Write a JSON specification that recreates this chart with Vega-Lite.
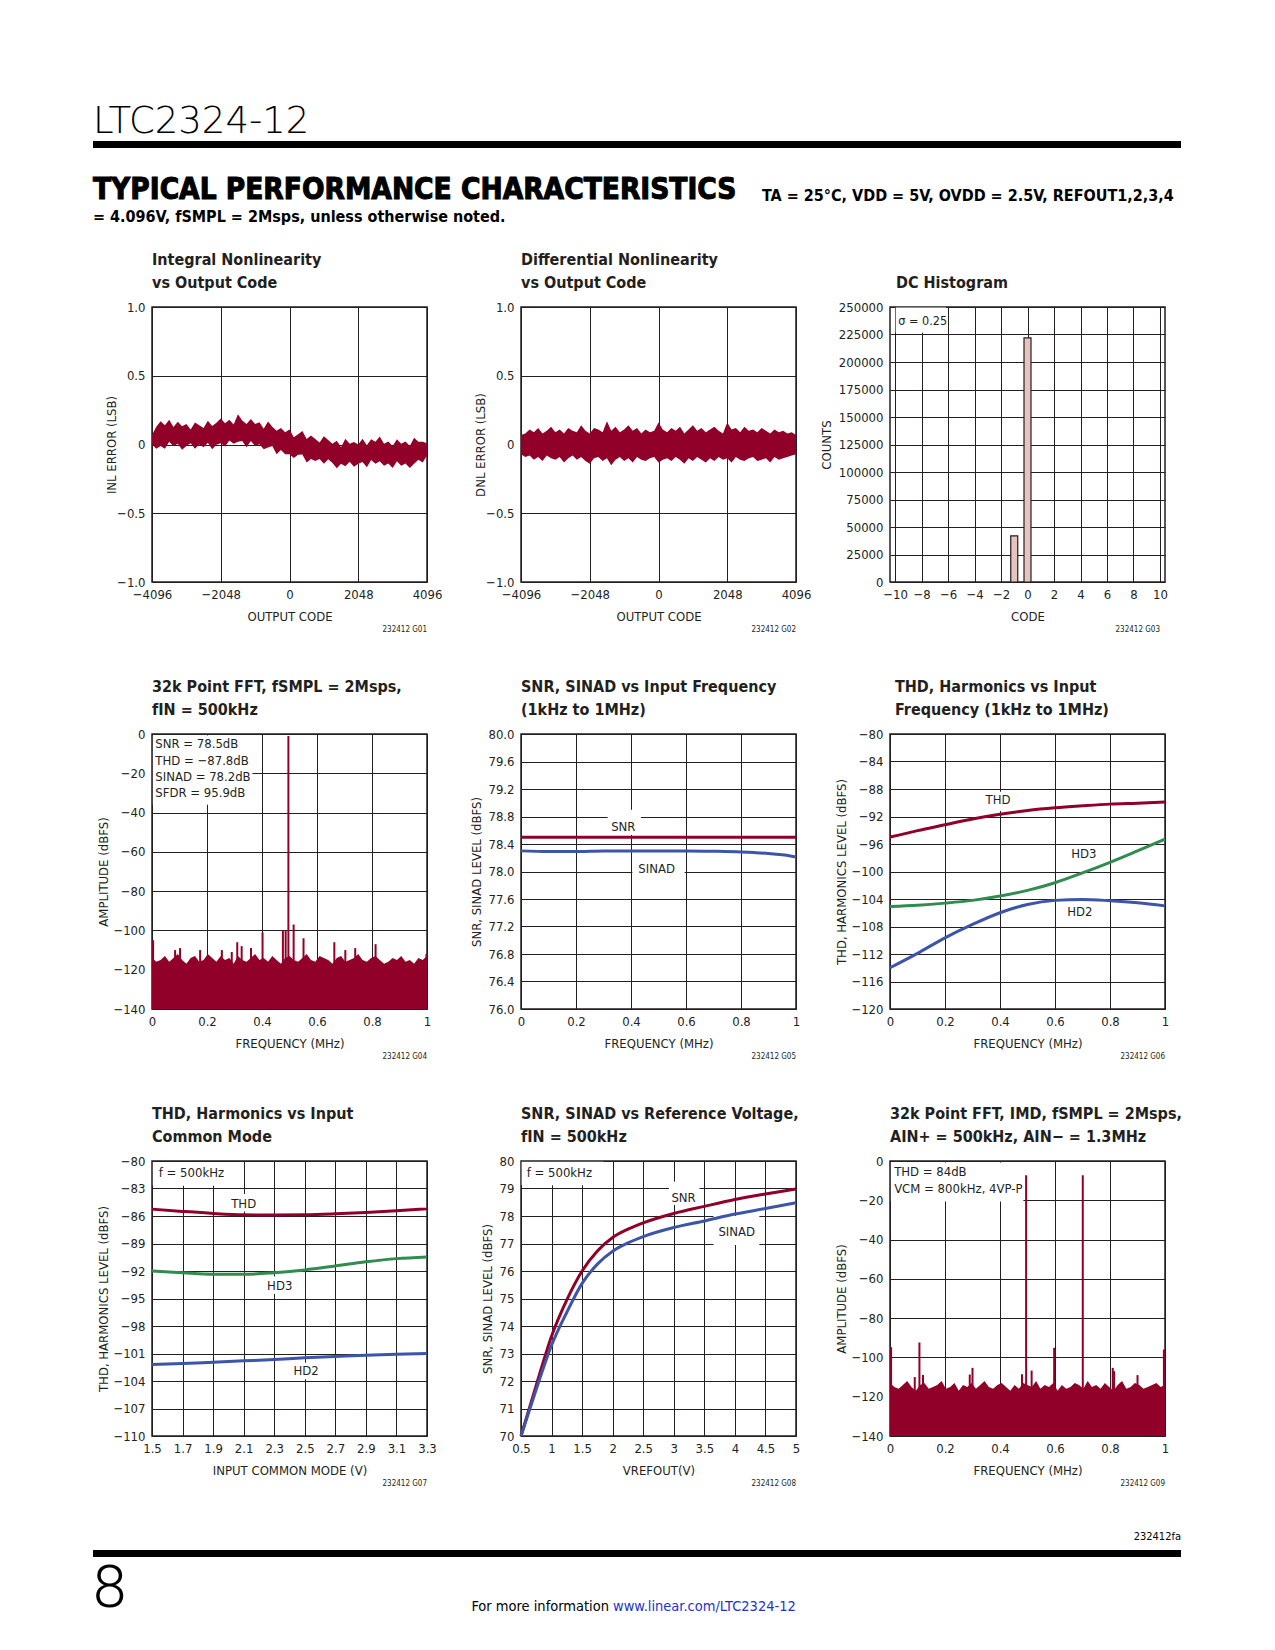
{
"$schema": "https://vega.github.io/schema/vega-lite/v6.json",
"autosize": "none",
"padding": {"left": 152, "top": 100, "right": 1123, "bottom": 1550},
"background": "white",
"config": {
 "font": "DejaVu Sans Condensed, sans-serif",
 "view": {"stroke": "#231f20", "strokeWidth": 1.5},
 "axis": {"grid": true, "gridColor": "#231f20", "gridOpacity": 1, "gridWidth": 1, "domain": false, "ticks": false, "tickSize": 0,
   "labelFont": "DejaVu Sans Condensed, sans-serif", "labelFontSize": 13, "labelColor": "#231f20", "labelPadding": 7, "labelFlush": false, "labelOverlap": false,
   "titleFont": "DejaVu Sans Condensed, sans-serif", "titleFontSize": 13, "titleFontWeight": "normal", "titleColor": "#231f20"},
 "axisX": {"labelPadding": 6, "titleY": 34, "titleBaseline": "middle"},
 "axisY": {"titleBaseline": "middle"},
 "title": {"font": "DejaVu Sans Condensed, sans-serif", "fontSize": 16, "fontWeight": "bold", "anchor": "start", "frame": "group", "offset": 10, "lineHeight": 23, "color": "#231f20"},
 "text": {"font": "DejaVu Sans Condensed, sans-serif", "fontSize": 13, "color": "#231f20"},
 "line": {"strokeWidth": 3, "interpolate": "monotone"}
},
"datasets": {
 "inl": [{"code":-4096,"lsb":0.07,"lsb_lo":0},{"code":-3968,"lsb":0.13,"lsb_lo":-0.03},{"code":-3840,"lsb":0.17,"lsb_lo":-0.01},{"code":-3712,"lsb":0.14,"lsb_lo":-0.03},{"code":-3584,"lsb":0.18,"lsb_lo":0.02},{"code":-3456,"lsb":0.128,"lsb_lo":-0.012},{"code":-3328,"lsb":0.165,"lsb_lo":0.005},{"code":-3200,"lsb":0.132,"lsb_lo":-0.038},{"code":-3072,"lsb":0.15,"lsb_lo":-0.01},{"code":-2944,"lsb":0.11,"lsb_lo":0.01},{"code":-2816,"lsb":0.16,"lsb_lo":-0.03},{"code":-2688,"lsb":0.14,"lsb_lo":0},{"code":-2560,"lsb":0.12,"lsb_lo":-0.02},{"code":-2432,"lsb":0.172,"lsb_lo":0.012},{"code":-2304,"lsb":0.135,"lsb_lo":-0.035},{"code":-2176,"lsb":0.158,"lsb_lo":-0.002},{"code":-2048,"lsb":0.19,"lsb_lo":0.01},{"code":-1920,"lsb":0.155,"lsb_lo":-0.015},{"code":-1792,"lsb":0.18,"lsb_lo":0.03},{"code":-1664,"lsb":0.145,"lsb_lo":0.005},{"code":-1536,"lsb":0.22,"lsb_lo":0.02},{"code":-1408,"lsb":0.175,"lsb_lo":0.025},{"code":-1280,"lsb":0.15,"lsb_lo":-0.02},{"code":-1152,"lsb":0.185,"lsb_lo":0.025},{"code":-1024,"lsb":0.15,"lsb_lo":-0.01},{"code":-896,"lsb":0.162,"lsb_lo":0.002},{"code":-768,"lsb":0.115,"lsb_lo":-0.035},{"code":-640,"lsb":0.168,"lsb_lo":-0.022},{"code":-512,"lsb":0.13,"lsb_lo":-0.01},{"code":-384,"lsb":0.1,"lsb_lo":-0.07},{"code":-256,"lsb":0.12,"lsb_lo":-0.04},{"code":-128,"lsb":0.09,"lsb_lo":-0.07},{"code":0,"lsb":0.11,"lsb_lo":-0.07},{"code":128,"lsb":0.052,"lsb_lo":-0.098},{"code":256,"lsb":0.075,"lsb_lo":-0.075},{"code":384,"lsb":0.098,"lsb_lo":-0.072},{"code":512,"lsb":0.04,"lsb_lo":-0.13},{"code":640,"lsb":0.065,"lsb_lo":-0.105},{"code":768,"lsb":0.04,"lsb_lo":-0.12},{"code":896,"lsb":0.015,"lsb_lo":-0.105},{"code":1024,"lsb":0.06,"lsb_lo":-0.14},{"code":1152,"lsb":0.032,"lsb_lo":-0.108},{"code":1280,"lsb":0.005,"lsb_lo":-0.135},{"code":1408,"lsb":0.028,"lsb_lo":-0.172},{"code":1536,"lsb":-0.02,"lsb_lo":-0.14},{"code":1664,"lsb":0.042,"lsb_lo":-0.158},{"code":1792,"lsb":0.005,"lsb_lo":-0.125},{"code":1920,"lsb":0.018,"lsb_lo":-0.162},{"code":2048,"lsb":0,"lsb_lo":-0.14},{"code":2176,"lsb":0.042,"lsb_lo":-0.128},{"code":2304,"lsb":-0.005,"lsb_lo":-0.165},{"code":2432,"lsb":0.038,"lsb_lo":-0.112},{"code":2560,"lsb":0.02,"lsb_lo":-0.14},{"code":2688,"lsb":0.058,"lsb_lo":-0.122},{"code":2816,"lsb":0.005,"lsb_lo":-0.155},{"code":2944,"lsb":0.022,"lsb_lo":-0.138},{"code":3072,"lsb":-0.01,"lsb_lo":-0.17},{"code":3200,"lsb":0.038,"lsb_lo":-0.122},{"code":3328,"lsb":0.005,"lsb_lo":-0.155},{"code":3456,"lsb":0.022,"lsb_lo":-0.138},{"code":3584,"lsb":-0.01,"lsb_lo":-0.17},{"code":3712,"lsb":0.05,"lsb_lo":-0.14},{"code":3840,"lsb":0.02,"lsb_lo":-0.11},{"code":3968,"lsb":0.02,"lsb_lo":-0.13},{"code":4096,"lsb":0.01,"lsb_lo":-0.08}],
 "dnl": [{"code":-4096,"lsb":0.07,"lsb_lo":-0.07},{"code":-3968,"lsb":0.08,"lsb_lo":-0.09},{"code":-3840,"lsb":0.11,"lsb_lo":-0.08},{"code":-3712,"lsb":0.09,"lsb_lo":-0.11},{"code":-3584,"lsb":0.12,"lsb_lo":-0.09},{"code":-3456,"lsb":0.08,"lsb_lo":-0.12},{"code":-3328,"lsb":0.1,"lsb_lo":-0.08},{"code":-3200,"lsb":0.13,"lsb_lo":-0.1},{"code":-3072,"lsb":0.09,"lsb_lo":-0.11},{"code":-2944,"lsb":0.11,"lsb_lo":-0.09},{"code":-2816,"lsb":0.08,"lsb_lo":-0.13},{"code":-2688,"lsb":0.12,"lsb_lo":-0.1},{"code":-2560,"lsb":0.1,"lsb_lo":-0.08},{"code":-2432,"lsb":0.09,"lsb_lo":-0.11},{"code":-2304,"lsb":0.14,"lsb_lo":-0.09},{"code":-2176,"lsb":0.1,"lsb_lo":-0.12},{"code":-2048,"lsb":0.08,"lsb_lo":-0.14},{"code":-1920,"lsb":0.12,"lsb_lo":-0.1},{"code":-1792,"lsb":0.11,"lsb_lo":-0.09},{"code":-1664,"lsb":0.09,"lsb_lo":-0.12},{"code":-1536,"lsb":0.17,"lsb_lo":-0.1},{"code":-1408,"lsb":0.1,"lsb_lo":-0.15},{"code":-1280,"lsb":0.13,"lsb_lo":-0.11},{"code":-1152,"lsb":0.09,"lsb_lo":-0.09},{"code":-1024,"lsb":0.11,"lsb_lo":-0.12},{"code":-896,"lsb":0.14,"lsb_lo":-0.1},{"code":-768,"lsb":0.1,"lsb_lo":-0.13},{"code":-640,"lsb":0.12,"lsb_lo":-0.09},{"code":-512,"lsb":0.08,"lsb_lo":-0.11},{"code":-384,"lsb":0.11,"lsb_lo":-0.12},{"code":-256,"lsb":0.09,"lsb_lo":-0.1},{"code":-128,"lsb":0.1,"lsb_lo":-0.09},{"code":0,"lsb":0.16,"lsb_lo":-0.13},{"code":128,"lsb":0.11,"lsb_lo":-0.11},{"code":256,"lsb":0.09,"lsb_lo":-0.1},{"code":384,"lsb":0.12,"lsb_lo":-0.12},{"code":512,"lsb":0.1,"lsb_lo":-0.09},{"code":640,"lsb":0.13,"lsb_lo":-0.11},{"code":768,"lsb":0.08,"lsb_lo":-0.14},{"code":896,"lsb":0.11,"lsb_lo":-0.1},{"code":1024,"lsb":0.14,"lsb_lo":-0.12},{"code":1152,"lsb":0.1,"lsb_lo":-0.09},{"code":1280,"lsb":0.12,"lsb_lo":-0.11},{"code":1408,"lsb":0.09,"lsb_lo":-0.13},{"code":1536,"lsb":0.11,"lsb_lo":-0.1},{"code":1664,"lsb":0.13,"lsb_lo":-0.12},{"code":1792,"lsb":0.1,"lsb_lo":-0.09},{"code":1920,"lsb":0.08,"lsb_lo":-0.11},{"code":2048,"lsb":0.16,"lsb_lo":-0.1},{"code":2176,"lsb":0.11,"lsb_lo":-0.13},{"code":2304,"lsb":0.12,"lsb_lo":-0.09},{"code":2432,"lsb":0.09,"lsb_lo":-0.11},{"code":2560,"lsb":0.13,"lsb_lo":-0.12},{"code":2688,"lsb":0.1,"lsb_lo":-0.1},{"code":2816,"lsb":0.11,"lsb_lo":-0.09},{"code":2944,"lsb":0.09,"lsb_lo":-0.12},{"code":3072,"lsb":0.12,"lsb_lo":-0.11},{"code":3200,"lsb":0.1,"lsb_lo":-0.1},{"code":3328,"lsb":0.08,"lsb_lo":-0.13},{"code":3456,"lsb":0.11,"lsb_lo":-0.09},{"code":3584,"lsb":0.09,"lsb_lo":-0.11},{"code":3712,"lsb":0.1,"lsb_lo":-0.1},{"code":3840,"lsb":0.08,"lsb_lo":-0.09},{"code":3968,"lsb":0.09,"lsb_lo":-0.08},{"code":4096,"lsb":0.07,"lsb_lo":-0.07}],
 "fft1_floor": [{"freq":0,"amp":-114},{"freq":0.0156,"amp":-116},{"freq":0.0313,"amp":-115},{"freq":0.0469,"amp":-113},{"freq":0.0625,"amp":-116},{"freq":0.0781,"amp":-114},{"freq":0.0938,"amp":-112},{"freq":0.1094,"amp":-115},{"freq":0.125,"amp":-117},{"freq":0.1406,"amp":-114},{"freq":0.1563,"amp":-113},{"freq":0.1719,"amp":-116},{"freq":0.1875,"amp":-115},{"freq":0.2031,"amp":-112},{"freq":0.2188,"amp":-114},{"freq":0.2344,"amp":-116},{"freq":0.25,"amp":-113},{"freq":0.2656,"amp":-115},{"freq":0.2813,"amp":-114},{"freq":0.2969,"amp":-117},{"freq":0.3125,"amp":-113},{"freq":0.3281,"amp":-115},{"freq":0.3438,"amp":-116},{"freq":0.3594,"amp":-114},{"freq":0.375,"amp":-112},{"freq":0.3906,"amp":-115},{"freq":0.4063,"amp":-114},{"freq":0.4219,"amp":-116},{"freq":0.4375,"amp":-113},{"freq":0.4531,"amp":-115},{"freq":0.4688,"amp":-117},{"freq":0.4844,"amp":-114},{"freq":0.5,"amp":-113},{"freq":0.5156,"amp":-115},{"freq":0.5313,"amp":-116},{"freq":0.5469,"amp":-114},{"freq":0.5625,"amp":-112},{"freq":0.5781,"amp":-115},{"freq":0.5938,"amp":-116},{"freq":0.6094,"amp":-113},{"freq":0.625,"amp":-114},{"freq":0.6406,"amp":-115},{"freq":0.6563,"amp":-117},{"freq":0.6719,"amp":-114},{"freq":0.6875,"amp":-113},{"freq":0.7031,"amp":-116},{"freq":0.7188,"amp":-115},{"freq":0.7344,"amp":-114},{"freq":0.75,"amp":-112},{"freq":0.7656,"amp":-115},{"freq":0.7813,"amp":-116},{"freq":0.7969,"amp":-114},{"freq":0.8125,"amp":-113},{"freq":0.8281,"amp":-115},{"freq":0.8438,"amp":-117},{"freq":0.8594,"amp":-116},{"freq":0.875,"amp":-114},{"freq":0.8906,"amp":-115},{"freq":0.9063,"amp":-113},{"freq":0.9219,"amp":-116},{"freq":0.9375,"amp":-115},{"freq":0.9531,"amp":-117},{"freq":0.9688,"amp":-114},{"freq":0.9844,"amp":-115},{"freq":1,"amp":-113}],
 "fft1_spurs": [{"freq":0.004,"amp":-105},{"freq":0.084,"amp":-110},{"freq":0.102,"amp":-109},{"freq":0.175,"amp":-110},{"freq":0.254,"amp":-110},{"freq":0.29,"amp":-111},{"freq":0.31,"amp":-106},{"freq":0.326,"amp":-108},{"freq":0.36,"amp":-109},{"freq":0.402,"amp":-101},{"freq":0.476,"amp":-100},{"freq":0.486,"amp":-100},{"freq":0.496,"amp":-1},{"freq":0.515,"amp":-97},{"freq":0.551,"amp":-104},{"freq":0.663,"amp":-106},{"freq":0.703,"amp":-110},{"freq":0.739,"amp":-109},{"freq":0.813,"amp":-107},{"freq":0.998,"amp":-112}],
 "fft2_floor": [{"freq":0,"amp":-113},{"freq":0.0156,"amp":-115},{"freq":0.0313,"amp":-116},{"freq":0.0469,"amp":-114},{"freq":0.0625,"amp":-112},{"freq":0.0781,"amp":-115},{"freq":0.0938,"amp":-117},{"freq":0.1094,"amp":-114},{"freq":0.125,"amp":-113},{"freq":0.1406,"amp":-116},{"freq":0.1563,"amp":-115},{"freq":0.1719,"amp":-114},{"freq":0.1875,"amp":-112},{"freq":0.2031,"amp":-116},{"freq":0.2188,"amp":-115},{"freq":0.2344,"amp":-113},{"freq":0.25,"amp":-117},{"freq":0.2656,"amp":-114},{"freq":0.2813,"amp":-115},{"freq":0.2969,"amp":-113},{"freq":0.3125,"amp":-116},{"freq":0.3281,"amp":-114},{"freq":0.3438,"amp":-112},{"freq":0.3594,"amp":-115},{"freq":0.375,"amp":-116},{"freq":0.3906,"amp":-114},{"freq":0.4063,"amp":-113},{"freq":0.4219,"amp":-115},{"freq":0.4375,"amp":-117},{"freq":0.4531,"amp":-114},{"freq":0.4688,"amp":-116},{"freq":0.4844,"amp":-113},{"freq":0.5,"amp":-114},{"freq":0.5156,"amp":-115},{"freq":0.5313,"amp":-112},{"freq":0.5469,"amp":-116},{"freq":0.5625,"amp":-114},{"freq":0.5781,"amp":-115},{"freq":0.5938,"amp":-113},{"freq":0.6094,"amp":-117},{"freq":0.625,"amp":-114},{"freq":0.6406,"amp":-116},{"freq":0.6563,"amp":-115},{"freq":0.6719,"amp":-113},{"freq":0.6875,"amp":-114},{"freq":0.7031,"amp":-116},{"freq":0.7188,"amp":-112},{"freq":0.7344,"amp":-115},{"freq":0.75,"amp":-114},{"freq":0.7656,"amp":-116},{"freq":0.7813,"amp":-113},{"freq":0.7969,"amp":-115},{"freq":0.8125,"amp":-117},{"freq":0.8281,"amp":-114},{"freq":0.8438,"amp":-112},{"freq":0.8594,"amp":-116},{"freq":0.875,"amp":-115},{"freq":0.8906,"amp":-113},{"freq":0.9063,"amp":-114},{"freq":0.9219,"amp":-116},{"freq":0.9375,"amp":-115},{"freq":0.9531,"amp":-114},{"freq":0.9688,"amp":-113},{"freq":0.9844,"amp":-115},{"freq":1,"amp":-114}],
 "fft2_spurs": [{"freq":0.004,"amp":-94.8},{"freq":0.09,"amp":-110},{"freq":0.107,"amp":-92.4},{"freq":0.12,"amp":-109},{"freq":0.29,"amp":-108.7},{"freq":0.3,"amp":-105.3},{"freq":0.48,"amp":-108.5},{"freq":0.495,"amp":-7.3},{"freq":0.515,"amp":-106.7},{"freq":0.597,"amp":-95.1},{"freq":0.701,"amp":-7.3},{"freq":0.81,"amp":-105.3},{"freq":0.815,"amp":-107},{"freq":0.9,"amp":-109},{"freq":0.996,"amp":-96}],
 "snr_freq": [{"freq":0,"level":78.5,"series":"SNR"},{"freq":0.25,"level":78.5,"series":"SNR"},{"freq":0.5,"level":78.5,"series":"SNR"},{"freq":0.75,"level":78.5,"series":"SNR"},{"freq":1,"level":78.5,"series":"SNR"},
   {"freq":0,"level":78.3,"series":"SINAD"},{"freq":0.1,"level":78.29,"series":"SINAD"},{"freq":0.2,"level":78.29,"series":"SINAD"},{"freq":0.3,"level":78.3,"series":"SINAD"},{"freq":0.4,"level":78.3,"series":"SINAD"},{"freq":0.5,"level":78.3,"series":"SINAD"},{"freq":0.6,"level":78.3,"series":"SINAD"},{"freq":0.7,"level":78.295,"series":"SINAD"},{"freq":0.8,"level":78.285,"series":"SINAD"},{"freq":0.85,"level":78.275,"series":"SINAD"},{"freq":0.9,"level":78.262,"series":"SINAD"},{"freq":0.95,"level":78.242,"series":"SINAD"},{"freq":1,"level":78.21,"series":"SINAD"}],
 "thd_freq": [{"freq":0,"level":-95.0,"series":"THD"},{"freq":0.1,"level":-94.05,"series":"THD"},{"freq":0.2,"level":-93.2,"series":"THD"},{"freq":0.3,"level":-92.35,"series":"THD"},{"freq":0.4,"level":-91.66,"series":"THD"},{"freq":0.5,"level":-91.13,"series":"THD"},{"freq":0.6,"level":-90.74,"series":"THD"},{"freq":0.7,"level":-90.45,"series":"THD"},{"freq":0.8,"level":-90.2,"series":"THD"},{"freq":0.9,"level":-90.06,"series":"THD"},{"freq":1,"level":-89.9,"series":"THD"},
   {"freq":0,"level":-105.08,"series":"HD3"},{"freq":0.1,"level":-104.9,"series":"HD3"},{"freq":0.2,"level":-104.6,"series":"HD3"},{"freq":0.3,"level":-104.2,"series":"HD3"},{"freq":0.4,"level":-103.57,"series":"HD3"},{"freq":0.5,"level":-102.75,"series":"HD3"},{"freq":0.6,"level":-101.63,"series":"HD3"},{"freq":0.7,"level":-100.2,"series":"HD3"},{"freq":0.8,"level":-98.66,"series":"HD3"},{"freq":0.9,"level":-97.0,"series":"HD3"},{"freq":1,"level":-95.3,"series":"HD3"},
   {"freq":0,"level":-114.0,"series":"HD2"},{"freq":0.1,"level":-111.9,"series":"HD2"},{"freq":0.2,"level":-109.65,"series":"HD2"},{"freq":0.3,"level":-107.7,"series":"HD2"},{"freq":0.4,"level":-106.0,"series":"HD2"},{"freq":0.5,"level":-104.8,"series":"HD2"},{"freq":0.6,"level":-104.2,"series":"HD2"},{"freq":0.7,"level":-104.06,"series":"HD2"},{"freq":0.8,"level":-104.25,"series":"HD2"},{"freq":0.9,"level":-104.55,"series":"HD2"},{"freq":1,"level":-105.0,"series":"HD2"}],
 "thd_cm": [{"vcm":1.5,"level":-85.25,"series":"THD"},{"vcm":1.7,"level":-85.5,"series":"THD"},{"vcm":1.9,"level":-85.72,"series":"THD"},{"vcm":2.1,"level":-85.87,"series":"THD"},{"vcm":2.3,"level":-85.9,"series":"THD"},{"vcm":2.5,"level":-85.87,"series":"THD"},{"vcm":2.7,"level":-85.76,"series":"THD"},{"vcm":2.9,"level":-85.61,"series":"THD"},{"vcm":3.1,"level":-85.43,"series":"THD"},{"vcm":3.3,"level":-85.21,"series":"THD"},
   {"vcm":1.5,"level":-92.0,"series":"HD3"},{"vcm":1.7,"level":-92.2,"series":"HD3"},{"vcm":1.9,"level":-92.36,"series":"HD3"},{"vcm":2.1,"level":-92.36,"series":"HD3"},{"vcm":2.3,"level":-92.18,"series":"HD3"},{"vcm":2.5,"level":-91.88,"series":"HD3"},{"vcm":2.7,"level":-91.45,"series":"HD3"},{"vcm":2.9,"level":-91.0,"series":"HD3"},{"vcm":3.1,"level":-90.65,"series":"HD3"},{"vcm":3.3,"level":-90.46,"series":"HD3"},
   {"vcm":1.5,"level":-102.2,"series":"HD2"},{"vcm":1.7,"level":-102.1,"series":"HD2"},{"vcm":1.9,"level":-101.95,"series":"HD2"},{"vcm":2.1,"level":-101.8,"series":"HD2"},{"vcm":2.3,"level":-101.65,"series":"HD2"},{"vcm":2.5,"level":-101.47,"series":"HD2"},{"vcm":2.7,"level":-101.33,"series":"HD2"},{"vcm":2.9,"level":-101.18,"series":"HD2"},{"vcm":3.1,"level":-101.07,"series":"HD2"},{"vcm":3.3,"level":-101.0,"series":"HD2"}],
 "snr_ref": [{"vref":0.5,"level":70.0,"series":"SNR"},{"vref":0.75,"level":71.85,"series":"SNR"},{"vref":1.0,"level":73.63,"series":"SNR"},{"vref":1.25,"level":74.95,"series":"SNR"},{"vref":1.5,"level":76.0,"series":"SNR"},{"vref":1.75,"level":76.73,"series":"SNR"},{"vref":2.0,"level":77.22,"series":"SNR"},{"vref":2.25,"level":77.52,"series":"SNR"},{"vref":2.5,"level":77.75,"series":"SNR"},{"vref":3.0,"level":78.09,"series":"SNR"},{"vref":3.5,"level":78.35,"series":"SNR"},{"vref":4.0,"level":78.6,"series":"SNR"},{"vref":4.5,"level":78.8,"series":"SNR"},{"vref":5.0,"level":78.98,"series":"SNR"},
   {"vref":0.5,"level":70.0,"series":"SINAD"},{"vref":0.75,"level":71.7,"series":"SINAD"},{"vref":1.0,"level":73.3,"series":"SINAD"},{"vref":1.25,"level":74.5,"series":"SINAD"},{"vref":1.5,"level":75.55,"series":"SINAD"},{"vref":1.75,"level":76.25,"series":"SINAD"},{"vref":2.0,"level":76.72,"series":"SINAD"},{"vref":2.25,"level":77.02,"series":"SINAD"},{"vref":2.5,"level":77.25,"series":"SINAD"},{"vref":3.0,"level":77.58,"series":"SINAD"},{"vref":3.5,"level":77.82,"series":"SINAD"},{"vref":4.0,"level":78.07,"series":"SINAD"},{"vref":4.5,"level":78.27,"series":"SINAD"},{"vref":5.0,"level":78.48,"series":"SINAD"}]
},
"vconcat": [
 {
  "width": 1029, "height": 125,
  "view": {"stroke": null},
  "encoding": {
   "x": {"field": "px", "type": "quantitative", "scale": {"domain": [59, 1088], "nice": false, "zero": false}, "axis": null},
   "y": {"field": "py", "type": "quantitative", "scale": {"domain": [0, 125], "nice": false, "zero": false}, "axis": null}
  },
  "layer": [
   {"data": {"values": [{"px": 0, "px2": 1088, "py": 77, "py2": 84}]}, "mark": {"type": "rect", "color": "#000000"}, "encoding": {"x2": {"field": "px2"}, "y2": {"field": "py2"}}},
   {"data": {"values": [{"px": 0, "py": 92, "label": "LTC2324-12"}]}, "mark": {"type": "text", "align": "left", "baseline": "alphabetic", "font": "DejaVu Sans", "fontWeight": 200, "fontSize": 37, "color": "#000000"}, "encoding": {"text": {"field": "label"}}},
   {"data": {"values": [{"px": 0, "py": 26, "label": "TYPICAL PERFORMANCE CHARACTERISTICS"}]}, "mark": {"type": "text", "align": "left", "baseline": "alphabetic", "fontWeight": "bold", "fontSize": 29.5, "color": "#000000", "stroke": "#000000", "strokeWidth": 1}, "encoding": {"text": {"field": "label"}}},
   {"data": {"values": [{"px": 669, "py": 24, "label": "TA = 25°C, VDD = 5V, OVDD = 2.5V, REFOUT1,2,3,4"}, {"px": 0, "py": 3, "label": "= 4.096V, fSMPL = 2Msps, unless otherwise noted."}]}, "mark": {"type": "text", "align": "left", "baseline": "alphabetic", "fontWeight": "bold", "fontSize": 16, "color": "#000000"}, "encoding": {"text": {"field": "label"}}}
  ]
 },
 {
  "columns": 3,
  "spacing": {"row": 152, "column": 94},
  "bounds": "flush",
  "resolve": {"scale": {"color": "independent"}},
  "concat": [
   {
    "width": 275, "height": 275,
    "title": {"text": ["Integral Nonlinearity", "vs Output Code"]},
    "encoding": {
     "x": {"field": "code", "type": "quantitative", "scale": {"domain": [-4096, 4096], "nice": false, "zero": false}, "axis": {"values": [-4096, -2048, 0, 2048, 4096], "format": "d", "title": "OUTPUT CODE"}},
     "y": {"field": "lsb", "type": "quantitative", "scale": {"domain": [-1, 1], "nice": false, "zero": false}, "axis": {"values": [-1, -0.5, 0, 0.5, 1], "labelExpr": "datum.value == 0 ? '0' : format(datum.value, '.1f')", "title": "INL ERROR (LSB)", "titleX": -41}}
    },
    "layer": [
     {"data": {"name": "inl"}, "mark": {"type": "area", "color": "#910028"}, "encoding": {"y2": {"field": "lsb_lo"}}},
     {"data": {"values": [{"code": 4096, "lsb": -1.349, "id": "232412 G01"}]}, "mark": {"type": "text", "align": "right", "baseline": "middle", "fontSize": 8}, "encoding": {"text": {"field": "id"}}}
    ]
   },
   {
    "width": 275, "height": 275,
    "title": {"text": ["Differential Nonlinearity", "vs Output Code"]},
    "encoding": {
     "x": {"field": "code", "type": "quantitative", "scale": {"domain": [-4096, 4096], "nice": false, "zero": false}, "axis": {"values": [-4096, -2048, 0, 2048, 4096], "format": "d", "title": "OUTPUT CODE"}},
     "y": {"field": "lsb", "type": "quantitative", "scale": {"domain": [-1, 1], "nice": false, "zero": false}, "axis": {"values": [-1, -0.5, 0, 0.5, 1], "labelExpr": "datum.value == 0 ? '0' : format(datum.value, '.1f')", "title": "DNL ERROR (LSB)", "titleX": -41}}
    },
    "layer": [
     {"data": {"name": "dnl"}, "mark": {"type": "area", "color": "#910028"}, "encoding": {"y2": {"field": "lsb_lo"}}},
     {"data": {"values": [{"code": 4096, "lsb": -1.349, "id": "232412 G02"}]}, "mark": {"type": "text", "align": "right", "baseline": "middle", "fontSize": 8}, "encoding": {"text": {"field": "id"}}}
    ]
   },
   {
    "width": 275, "height": 275,
    "title": {"text": "DC Histogram", "dx": 6},
    "encoding": {
     "x": {"field": "code", "type": "quantitative", "scale": {"domain": [-10, 10], "nice": false, "zero": false}, "axis": {"values": [-10, -8, -6, -4, -2, 0, 2, 4, 6, 8, 10], "format": "d", "title": "CODE"}},
     "y": {"field": "count", "type": "quantitative", "scale": {"domain": [0, 250000], "nice": false}, "axis": {"values": [0, 25000, 50000, 75000, 100000, 125000, 150000, 175000, 200000, 225000, 250000], "format": "d", "title": "COUNTS", "titleX": -64}}
    },
    "layer": [
     {"data": {"values": [{"code": -9.95, "code2": -6.15, "count": 226500, "count2": 249500}]}, "mark": {"type": "rect", "color": "white"}, "encoding": {"x2": {"field": "code2"}, "y2": {"field": "count2"}}},
     {"data": {"values": [{"code": -1, "count": 42000}, {"code": 0, "count": 222000}]}, "mark": {"type": "bar", "width": 7, "fill": "#E6C3BD", "stroke": "#231f20", "strokeWidth": 1.2, "orient": "vertical"}, "encoding": {"y2": {"datum": 0}}},
     {"data": {"values": [{"code": -9.75, "count": 237500, "label": "σ = 0.25"}]}, "mark": {"type": "text", "align": "left", "baseline": "middle", "fontSize": 12.5}, "encoding": {"text": {"field": "label"}}},
     {"data": {"values": [{"code": 10, "count": -43636, "id": "232412 G03"}]}, "mark": {"type": "text", "align": "right", "baseline": "middle", "fontSize": 8}, "encoding": {"text": {"field": "id"}}}
    ]
   },
   {
    "width": 275, "height": 275,
    "title": {"text": ["32k Point FFT, fSMPL = 2Msps,", "fIN = 500kHz"]},
    "encoding": {
     "x": {"field": "freq", "type": "quantitative", "scale": {"domain": [0, 1], "nice": false, "zero": false}, "axis": {"values": [0, 0.2, 0.4, 0.6, 0.8, 1], "format": "~g", "title": "FREQUENCY (MHz)"}},
     "y": {"field": "amp", "type": "quantitative", "scale": {"domain": [-140, 0], "nice": false, "zero": false}, "axis": {"values": [-140, -120, -100, -80, -60, -40, -20, 0], "format": "d", "title": "AMPLITUDE (dBFS)", "titleX": -49}}
    },
    "layer": [
     {"data": {"name": "fft1_floor"}, "mark": {"type": "area", "color": "#910028"}, "encoding": {"y2": {"datum": -140}}},
     {"data": {"name": "fft1_spurs"}, "mark": {"type": "rule", "color": "#910028", "strokeWidth": 2}, "encoding": {"y2": {"datum": -140}}},
     {"data": {"values": [{"freq": 0.003, "freq2": 0.365, "amp": -36, "amp2": -0.8}]}, "mark": {"type": "rect", "color": "white"}, "encoding": {"x2": {"field": "freq2"}, "y2": {"field": "amp2"}}},
     {"data": {"values": [{"freq": 0.012, "amp": -5.1, "label": "SNR = 78.5dB"}, {"freq": 0.012, "amp": -13.6, "label": "THD = −87.8dB"}, {"freq": 0.012, "amp": -21.9, "label": "SINAD = 78.2dB"}, {"freq": 0.012, "amp": -30.2, "label": "SFDR = 95.9dB"}]}, "mark": {"type": "text", "align": "left", "baseline": "middle"}, "encoding": {"text": {"field": "label"}}},
     {"data": {"values": [{"freq": 1, "amp": -164.4, "id": "232412 G04"}]}, "mark": {"type": "text", "align": "right", "baseline": "middle", "fontSize": 8}, "encoding": {"text": {"field": "id"}}}
    ]
   },
   {
    "width": 275, "height": 275,
    "title": {"text": ["SNR, SINAD vs Input Frequency", "(1kHz to 1MHz)"]},
    "encoding": {
     "x": {"field": "freq", "type": "quantitative", "scale": {"domain": [0, 1], "nice": false, "zero": false}, "axis": {"values": [0, 0.2, 0.4, 0.6, 0.8, 1], "format": "~g", "title": "FREQUENCY (MHz)"}},
     "y": {"field": "level", "type": "quantitative", "scale": {"domain": [76, 80], "nice": false, "zero": false}, "axis": {"values": [76, 76.4, 76.8, 77.2, 77.6, 78, 78.4, 78.8, 79.2, 79.6, 80], "format": ".1f", "title": "SNR, SINAD LEVEL (dBFS)", "titleX": -45}}
    },
    "layer": [
     {"data": {"values": [{"freq": 0.315, "freq2": 0.436, "level": 78.53, "level2": 78.9}, {"freq": 0.405, "freq2": 0.595, "level": 77.93, "level2": 78.2}]}, "mark": {"type": "rect", "color": "white"}, "encoding": {"x2": {"field": "freq2"}, "y2": {"field": "level2"}}},
     {"data": {"name": "snr_freq"}, "mark": {"type": "line"}, "encoding": {"color": {"field": "series", "type": "nominal", "scale": {"domain": ["SNR", "SINAD"], "range": ["#910028", "#3C55AA"]}, "legend": null}}},
     {"data": {"values": [{"freq": 0.372, "level": 78.65, "label": "SNR"}, {"freq": 0.493, "level": 78.04, "label": "SINAD"}]}, "mark": {"type": "text", "align": "center", "baseline": "middle"}, "encoding": {"text": {"field": "label"}}},
     {"data": {"values": [{"freq": 1, "level": 75.302, "id": "232412 G05"}]}, "mark": {"type": "text", "align": "right", "baseline": "middle", "fontSize": 8}, "encoding": {"text": {"field": "id"}}}
    ]
   },
   {
    "width": 275, "height": 275,
    "title": {"text": ["THD, Harmonics vs Input", "Frequency (1kHz to 1MHz)"], "dx": 5},
    "encoding": {
     "x": {"field": "freq", "type": "quantitative", "scale": {"domain": [0, 1], "nice": false, "zero": false}, "axis": {"values": [0, 0.2, 0.4, 0.6, 0.8, 1], "format": "~g", "title": "FREQUENCY (MHz)"}},
     "y": {"field": "level", "type": "quantitative", "scale": {"domain": [-120, -80], "nice": false, "zero": false}, "axis": {"values": [-120, -116, -112, -108, -104, -100, -96, -92, -88, -84, -80], "format": "d", "title": "THD, HARMONICS LEVEL (dBFS)", "titleX": -49}}
    },
    "layer": [
     {"data": {"values": [{"freq": 0.345, "freq2": 0.445, "level": -91.2, "level2": -88.4}]}, "mark": {"type": "rect", "color": "white"}, "encoding": {"x2": {"field": "freq2"}, "y2": {"field": "level2"}}},
     {"data": {"name": "thd_freq"}, "mark": {"type": "line"}, "encoding": {"color": {"field": "series", "type": "nominal", "scale": {"domain": ["THD", "HD3", "HD2"], "range": ["#910028", "#318C50", "#3C55AA"]}, "legend": null}}},
     {"data": {"values": [{"freq": 0.393, "level": -89.6, "label": "THD"}, {"freq": 0.705, "level": -97.45, "label": "HD3"}, {"freq": 0.69, "level": -105.86, "label": "HD2"}]}, "mark": {"type": "text", "align": "center", "baseline": "middle"}, "encoding": {"text": {"field": "label"}}},
     {"data": {"values": [{"freq": 1, "level": -126.98, "id": "232412 G06"}]}, "mark": {"type": "text", "align": "right", "baseline": "middle", "fontSize": 8}, "encoding": {"text": {"field": "id"}}}
    ]
   },
   {
    "width": 275, "height": 275,
    "title": {"text": ["THD, Harmonics vs Input", "Common Mode"]},
    "encoding": {
     "x": {"field": "vcm", "type": "quantitative", "scale": {"domain": [1.5, 3.3], "nice": false, "zero": false}, "axis": {"values": [1.5, 1.7, 1.9, 2.1, 2.3, 2.5, 2.7, 2.9, 3.1, 3.3], "format": ".1f", "title": "INPUT COMMON MODE (V)"}},
     "y": {"field": "level", "type": "quantitative", "scale": {"domain": [-110, -80], "nice": false, "zero": false}, "axis": {"values": [-110, -107, -104, -101, -98, -95, -92, -89, -86, -83, -80], "format": "d", "title": "THD, HARMONICS LEVEL (dBFS)", "titleX": -49}}
    },
    "layer": [
     {"data": {"values": [{"vcm": 1.505, "vcm2": 2.0, "level": -82.7, "level2": -80.1}, {"vcm": 2.02, "vcm2": 2.18, "level": -85.5, "level2": -83.6}, {"vcm": 2.255, "vcm2": 2.415, "level": -94.5, "level2": -92.6}, {"vcm": 2.43, "vcm2": 2.59, "level": -103.8, "level2": -102.0}]}, "mark": {"type": "rect", "color": "white"}, "encoding": {"x2": {"field": "vcm2"}, "y2": {"field": "level2"}}},
     {"data": {"name": "thd_cm"}, "mark": {"type": "line"}, "encoding": {"color": {"field": "series", "type": "nominal", "scale": {"domain": ["THD", "HD3", "HD2"], "range": ["#910028", "#318C50", "#3C55AA"]}, "legend": null}}},
     {"data": {"values": [{"vcm": 1.544, "level": -81.35, "label": "f = 500kHz"}]}, "mark": {"type": "text", "align": "left", "baseline": "middle"}, "encoding": {"text": {"field": "label"}}},
     {"data": {"values": [{"vcm": 2.1, "level": -84.7, "label": "THD"}, {"vcm": 2.336, "level": -93.6, "label": "HD3"}, {"vcm": 2.508, "level": -102.93, "label": "HD2"}]}, "mark": {"type": "text", "align": "center", "baseline": "middle"}, "encoding": {"text": {"field": "label"}}},
     {"data": {"values": [{"vcm": 3.3, "level": -115.24, "id": "232412 G07"}]}, "mark": {"type": "text", "align": "right", "baseline": "middle", "fontSize": 8}, "encoding": {"text": {"field": "id"}}}
    ]
   },
   {
    "width": 275, "height": 275,
    "title": {"text": ["SNR, SINAD vs Reference Voltage,", "fIN = 500kHz"]},
    "encoding": {
     "x": {"field": "vref", "type": "quantitative", "scale": {"domain": [0.5, 5], "nice": false, "zero": false}, "axis": {"values": [0.5, 1, 1.5, 2, 2.5, 3, 3.5, 4, 4.5, 5], "format": "~g", "title": "VREFOUT(V)"}},
     "y": {"field": "level", "type": "quantitative", "scale": {"domain": [70, 80], "nice": false, "zero": false}, "axis": {"values": [70, 71, 72, 73, 74, 75, 76, 77, 78, 79, 80], "format": "d", "title": "SNR, SINAD LEVEL (dBFS)", "titleX": -34}}
    },
    "layer": [
     {"data": {"values": [{"vref": 0.51, "vref2": 1.85, "level": 79.12, "level2": 79.97}, {"vref": 2.92, "vref2": 3.42, "level": 78.4, "level2": 79.25}, {"vref": 3.65, "vref2": 4.4, "level": 76.95, "level2": 78.0}]}, "mark": {"type": "rect", "color": "white"}, "encoding": {"x2": {"field": "vref2"}, "y2": {"field": "level2"}}},
     {"data": {"name": "snr_ref"}, "mark": {"type": "line"}, "encoding": {"color": {"field": "series", "type": "nominal", "scale": {"domain": ["SNR", "SINAD"], "range": ["#910028", "#3C55AA"]}, "legend": null}}},
     {"data": {"values": [{"vref": 0.593, "level": 79.55, "label": "f = 500kHz"}]}, "mark": {"type": "text", "align": "left", "baseline": "middle"}, "encoding": {"text": {"field": "label"}}},
     {"data": {"values": [{"vref": 3.16, "level": 78.64, "label": "SNR"}, {"vref": 4.03, "level": 77.42, "label": "SINAD"}]}, "mark": {"type": "text", "align": "center", "baseline": "middle"}, "encoding": {"text": {"field": "label"}}},
     {"data": {"values": [{"vref": 5, "level": 68.255, "id": "232412 G08"}]}, "mark": {"type": "text", "align": "right", "baseline": "middle", "fontSize": 8}, "encoding": {"text": {"field": "id"}}}
    ]
   },
   {
    "width": 275, "height": 275,
    "title": {"text": ["32k Point FFT, IMD, fSMPL = 2Msps,", "AIN+ = 500kHz, AIN− = 1.3MHz"]},
    "encoding": {
     "x": {"field": "freq", "type": "quantitative", "scale": {"domain": [0, 1], "nice": false, "zero": false}, "axis": {"values": [0, 0.2, 0.4, 0.6, 0.8, 1], "format": "~g", "title": "FREQUENCY (MHz)"}},
     "y": {"field": "amp", "type": "quantitative", "scale": {"domain": [-140, 0], "nice": false, "zero": false}, "axis": {"values": [-140, -120, -100, -80, -60, -40, -20, 0], "format": "d", "title": "AMPLITUDE (dBFS)", "titleX": -49}}
    },
    "layer": [
     {"data": {"name": "fft2_floor"}, "mark": {"type": "area", "color": "#910028"}, "encoding": {"y2": {"datum": -140}}},
     {"data": {"name": "fft2_spurs"}, "mark": {"type": "rule", "color": "#910028", "strokeWidth": 2}, "encoding": {"y2": {"datum": -140}}},
     {"data": {"values": [{"freq": 0.003, "freq2": 0.485, "amp": -20.6, "amp2": -0.8}]}, "mark": {"type": "rect", "color": "white"}, "encoding": {"x2": {"field": "freq2"}, "y2": {"field": "amp2"}}},
     {"data": {"values": [{"freq": 0.015, "amp": -5.6, "label": "THD = 84dB"}, {"freq": 0.015, "amp": -14.1, "label": "VCM = 800kHz, 4VP-P"}]}, "mark": {"type": "text", "align": "left", "baseline": "middle"}, "encoding": {"text": {"field": "label"}}},
     {"data": {"values": [{"freq": 1, "amp": -164.4, "id": "232412 G09"}]}, "mark": {"type": "text", "align": "right", "baseline": "middle", "fontSize": 8}, "encoding": {"text": {"field": "id"}}}
    ]
   },
   {
    "width": 275, "height": 22,
    "view": {"stroke": null},
    "encoding": {
     "x": {"field": "px", "type": "quantitative", "scale": {"domain": [59, 334], "nice": false, "zero": false}, "axis": null},
     "y": {"field": "py", "type": "quantitative", "scale": {"domain": [0, 22], "nice": false, "zero": false}, "axis": null}
    },
    "layer": [
     {"data": {"values": [{"px": 0, "px2": 1088, "py": 53, "py2": 60}]}, "mark": {"type": "rect", "color": "#000000"}, "encoding": {"x2": {"field": "px2"}, "y2": {"field": "py2"}}},
     {"data": {"values": [{"px": 1088, "py": 73, "label": "232412fa"}]}, "mark": {"type": "text", "align": "right", "baseline": "middle", "fontSize": 11, "color": "#000000"}, "encoding": {"text": {"field": "label"}}},
     {"data": {"values": [{"px": 0, "py": 3, "label": "8"}]}, "mark": {"type": "text", "align": "left", "baseline": "alphabetic", "font": "Roboto", "fontWeight": 300, "fontSize": 60, "color": "#000000"}, "encoding": {"text": {"field": "label"}}},
     {"data": {"values": [{"px": 516, "py": -1, "label": "For more information"}]}, "mark": {"type": "text", "align": "right", "baseline": "alphabetic", "fontSize": 14.5, "color": "#000000"}, "encoding": {"text": {"field": "label"}}},
     {"data": {"values": [{"px": 520, "py": -1, "label": "www.linear.com/LTC2324-12"}]}, "mark": {"type": "text", "align": "left", "baseline": "alphabetic", "fontSize": 14.5, "color": "#2233CC"}, "encoding": {"text": {"field": "label"}}}
    ]
   }
  ]
 }
],
"spacing": 82,
"bounds": "flush"
}
